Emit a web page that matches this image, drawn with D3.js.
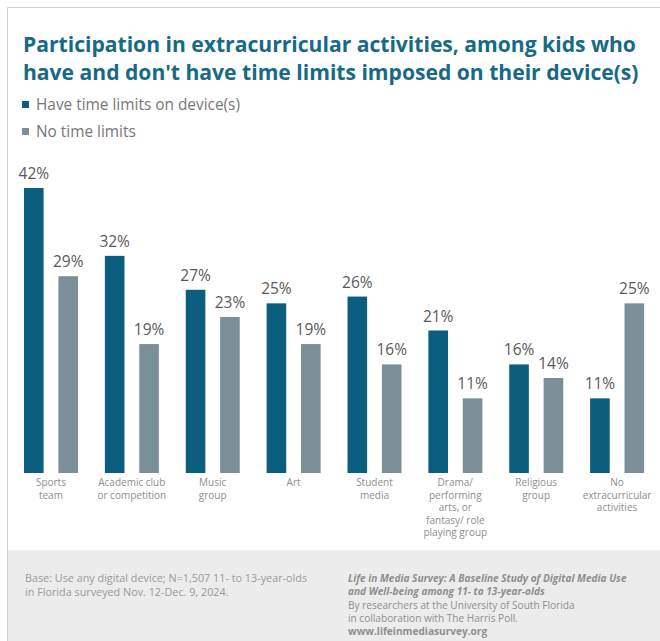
<!DOCTYPE html>
<html>
<head>
<meta charset="utf-8">
<script src="https://cdn.jsdelivr.net/npm/d3@7"></script>
<style>
  html, body { margin: 0; padding: 0; background: #fff; }
  svg { display: block; font-family: "Open Sans", sans-serif; }
</style>
</head>
<body>
<svg id="chart" width="660" height="641"></svg>
<script>
// Activity categories (multi-line labels)
const categories = [
  ["Sports", "team"],
  ["Academic club", "or competition"],
  ["Music", "group"],
  ["Art"],
  ["Student", "media"],
  ["Drama/", "performing", "arts, or", "fantasy/ role", "playing group"],
  ["Religious", "group"],
  ["No", "extracurricular", "activities"]
];
const seriesNames = ["Have time limits on device(s)", "No time limits"];
const timeLimits = [42, 32, 27, 25, 26, 21, 16, 11];
const noLimits   = [29, 19, 23, 19, 16, 11, 14, 25];
const colors = ["#0b5e7e", "#7b8f99"];

const svg = d3.select("#chart");
const W = 660, H = 641;

// frame
svg.append("path")
  .attr("d", `M7.5,${H} V7.5 H${W}`)
  .attr("fill", "none").attr("stroke", "#cfcfcf").attr("stroke-width", 1);

// title
const title = svg.append("text")
  .attr("fill", "#176a85")
  .attr("font-size", 21.1).attr("font-weight", 700);
title.append("tspan").attr("x", 23).attr("y", 52)
  .text("Participation in extracurricular activities, among kids who");
title.append("tspan").attr("x", 23).attr("y", 80)
  .text("have and don't have time limits imposed on their device(s)");

// legend
const legend = svg.append("g");
seriesNames.forEach((name, i) => {
  const y = 110 + i * 27;
  legend.append("rect").attr("x", 22).attr("y", y - 9)
    .attr("width", 7).attr("height", 7).attr("fill", colors[i]);
  legend.append("text").attr("x", 36).attr("y", y)
    .attr("font-size", 15.4).attr("fill", "#777")
    .text(name);
});

// scales
const baseline = 473;
const x0 = d3.scaleBand()
  .domain(d3.range(categories.length))
  .range([10.5, 657.5]);
const x1 = d3.scaleBand()
  .domain([0, 1])
  .range([13.5, 67.5])
  .paddingInner(0.43);
const y = d3.scaleLinear().domain([0, 42]).range([baseline, 188]);

const rows = categories.map((c, i) => ({ i, vals: [timeLimits[i], noLimits[i]] }));

const groups = svg.append("g").selectAll("g")
  .data(rows).join("g")
  .attr("transform", d => `translate(${x0(d.i)},0)`);

groups.selectAll("rect")
  .data(d => d.vals.map((v, k) => ({ v, k })))
  .join("rect")
  .attr("x", d => x1(d.k))
  .attr("width", x1.bandwidth())
  .attr("y", d => y(d.v))
  .attr("height", d => baseline - y(d.v))
  .attr("fill", d => colors[d.k]);

groups.selectAll("text.val")
  .data(d => d.vals.map((v, k) => ({ v, k })))
  .join("text")
  .attr("class", "val")
  .attr("x", d => x1(d.k) + x1.bandwidth() / 2)
  .attr("y", d => y(d.v) - 9)
  .attr("text-anchor", "middle")
  .attr("font-size", 15.5).attr("fill", "#5a5a5a")
  .text(d => d.v + "%");

// category labels
groups.append("text")
  .attr("text-anchor", "middle")
  .attr("font-size", 10).attr("fill", "#8e8e8e")
  .selectAll("tspan")
  .data(d => categories[d.i])
  .join("tspan")
  .attr("x", x0.bandwidth() / 2)
  .attr("y", (d, j) => 486 + j * 12.5)
  .text(d => d);

// footer panel
svg.append("rect").attr("x", 8).attr("y", 550)
  .attr("width", W - 8).attr("height", H - 550).attr("fill", "#ececec");

const baseNote = [
  "Base: Use any digital device; N=1,507 11- to 13-year-olds",
  "in Florida surveyed Nov. 12-Dec. 9, 2024."
];
svg.append("text").attr("font-size", 10.8).attr("fill", "#9a9a9a")
  .selectAll("tspan").data(baseNote).join("tspan")
  .attr("x", 25).attr("y", (d, j) => 582 + j * 14)
  .text(d => d);

const source = [
  { t: "Life in Media Survey: A Baseline Study of Digital Media Use", w: 700, s: "italic" },
  { t: "and Well-being among 11- to 13-year-olds", w: 700, s: "italic" },
  { t: "By researchers at the University of South Florida", w: 400, s: "normal" },
  { t: "in collaboration with The Harris Poll.", w: 400, s: "normal" },
  { t: "www.lifeinmediasurvey.org", w: 700, s: "normal" }
];
svg.append("text").attr("font-size", 10.1).attr("fill", "#8f8f8f")
  .selectAll("tspan").data(source).join("tspan")
  .attr("x", 348).attr("y", (d, j) => 582 + j * 13.3)
  .attr("font-weight", d => d.w).attr("font-style", d => d.s)
  .text(d => d.t);
</script>
</body>
</html>
